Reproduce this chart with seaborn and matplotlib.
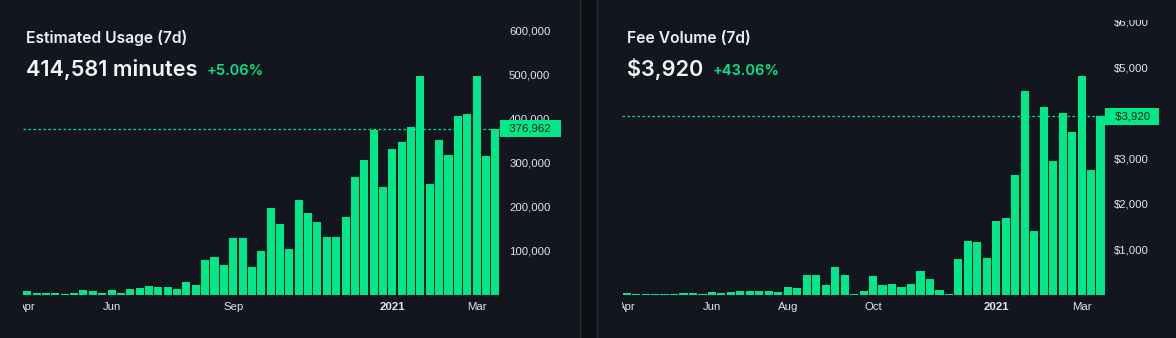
import numpy as np
import pandas as pd
import matplotlib
matplotlib.use("Agg")
import matplotlib.pyplot as plt
import seaborn as sns
from matplotlib.patches import FancyBboxPatch
from matplotlib import transforms as mtransforms

# ---------------- data ----------------
first_week = "2020-04-04"
n_weeks = 51

usage_minutes = [8300, 3800, 3800, 3800, 1500, 3800, 10600, 8300, 3800, 10600,
                 3800, 12800, 15100, 19700, 17400, 17400, 12800, 28700, 21900, 78600,
                 85400, 67300, 128500, 128500, 62700, 99000, 196500, 160200, 103600, 214700,
                 185200, 164800, 130800, 130800, 176100, 266800, 305400, 373400, 244100, 330300,
                 346200, 380200, 495800, 251000, 350700, 316700, 405100, 409700, 495800, 314400,
                 376962]
fee_usd = [37, 15, 15, 15, 15, 15, 37, 37, 15, 59,
           37, 59, 81, 81, 81, 81, 59, 168, 147, 432,
           432, 212, 608, 432, 15, 81, 410, 212, 234, 168,
           234, 520, 344, 103, 15, 784, 1180, 1158, 806, 1619,
           1685, 2630, 4476, 1399, 4125, 2938, 3993, 3575, 4806, 2740,
           3920]

usage_title = "Estimated Usage (7d)"
usage_headline = "414,581 minutes"
usage_change = "+5.06%"
usage_last_label = "376,962"
usage_yticks = [100000, 200000, 300000, 400000, 500000, 600000]
usage_ytick_labels = ["100,000", "200,000", "300,000", "400,000", "500,000", "600,000"]
usage_tick_months = ["2020-04", "2020-06", "2020-09", "2021-01", "2021-03"]
usage_tick_labels = ["Apr", "Jun", "Sep", "2021", "Mar"]

fee_title = "Fee Volume (7d)"
fee_headline = "$3,920"
fee_change = "+43.06%"
fee_last_label = "$3,920"
fee_yticks = [1000, 2000, 3000, 4000, 5000, 6000]
fee_ytick_labels = ["$1,000", "$2,000", "$3,000", "", "$5,000", "$6,000"]
fee_tick_months = ["2020-04", "2020-06", "2020-08", "2020-10", "2021-01", "2021-03"]
fee_tick_labels = ["Apr", "Jun", "Aug", "Oct", "2021", "Mar"]

# ---------------- style ----------------
GREEN = "#00e887"
CARD = "#13161e"
GAP = "#0c0e13"
BORDER = "#2c2f37"
TICK = "#e2e5eb"
TITLE = "#eceef2"
VALUE = "#f4f5f7"
BOX_TEXT = "#141720"

sns.set_theme(style="dark")
plt.rcParams["font.family"] = ["Liberation Sans", "DejaVu Sans"]

W, H, DPI = 1176, 338, 100
fig = plt.figure(figsize=(W / DPI, H / DPI), dpi=DPI, facecolor=GAP)

# cards
for x0, x1 in [(-60, 580.5), (597.5, 1240)]:
    card = FancyBboxPatch((x0 / DPI, -0.5), (x1 - x0) / DPI, (H + 6) / DPI + 0.5,
                          boxstyle="round,pad=0,rounding_size=0.09",
                          transform=fig.dpi_scale_trans, facecolor=CARD,
                          edgecolor=BORDER, linewidth=1.0, zorder=-5)
    fig.patches.append(card)

dates = pd.date_range(first_week, periods=n_weeks, freq="7D")
week_keys = dates.strftime("%Y-%m-%d")
month_keys = np.array(dates.strftime("%Y-%m"))


def panel(rect, values, ymax, yticks, ytick_labels, tick_months, tick_labels, last_label):
    ax = fig.add_axes(rect)
    ax.set_facecolor("none")
    df = pd.DataFrame({"week": week_keys, "value": values})
    sns.barplot(data=df, x="week", y="value", color=GREEN, saturation=1,
                width=0.86, linewidth=0, ax=ax, zorder=2)
    ax.set_xlim(-0.5, n_weeks - 0.5)
    ax.set_ylim(0, ymax)
    for s in ax.spines.values():
        s.set_visible(False)
    ax.grid(False)
    ax.set_xlabel("")
    ax.set_ylabel("")
    ax.yaxis.tick_right()
    ax.set_yticks(yticks)
    ax.set_yticklabels(ytick_labels)
    xpos = [int(np.argmax(month_keys == m)) for m in tick_months]
    ax.set_xticks(xpos)
    ax.set_xticklabels(tick_labels)
    ax.tick_params(axis="y", length=0, pad=6.5, labelsize=8.2, labelcolor=TICK)
    ax.tick_params(axis="x", length=0, pad=5.5, labelsize=8.2, labelcolor=TICK)
    for lab in ax.get_xticklabels():
        if lab.get_text().isdigit():
            lab.set_fontweight("bold")
    last = values[-1]
    ax.axhline(last, color=GREEN, lw=0.9, ls=(0, (2, 2)), zorder=3)
    ax.annotate("  " + last_label + "  ", xy=(1, last),
                xycoords=(ax.transAxes, ax.transData),
                xytext=(2.4, 0), textcoords="offset points",
                ha="left", va="center", fontsize=8.2, color=BOX_TEXT,
                bbox=dict(boxstyle="square,pad=0.3", fc=GREEN, ec="none"),
                annotation_clip=False, zorder=5)
    return ax


ax1 = panel([22.6 / W, 43.5 / H, (500 - 22.6) / W, 274.5 / H],
            usage_minutes, 624000, usage_yticks, usage_ytick_labels,
            usage_tick_months, usage_tick_labels, usage_last_label)
ax2 = panel([621.9 / W, 43.3 / H, (1105.3 - 621.9) / W, 274.7 / H],
            fee_usd, 6037, fee_yticks, fee_ytick_labels,
            fee_tick_months, fee_tick_labels, fee_last_label)

# headers
def header(x_px, title, headline, change):
    fig.text(x_px / W, 1 - 38.5 / H, title, fontsize=11.3, color=TITLE,
             family=["Inter", "DejaVu Sans"], fontweight="semibold", va="center", ha="left")
    t = fig.text(x_px / W, 1 - 69.5 / H, headline, fontsize=15.6, color=VALUE,
                 family=["Inter", "DejaVu Sans"], fontweight="semibold", va="center", ha="left")
    return t

h1 = header(26, usage_title, usage_headline, usage_change)
h2 = header(627, fee_title, fee_headline, fee_change)

fig.canvas.draw()
renderer = fig.canvas.get_renderer()
for h, change in [(h1, usage_change), (h2, fee_change)]:
    bb = h.get_window_extent(renderer)
    fig.text((bb.x1 + 9) / W, 1 - 71 / H, change, fontsize=10.5, color=GREEN,
             family=["Inter", "DejaVu Sans"], fontweight="semibold", va="center", ha="left")

# clip tick labels to the chart area like the reference
for ax in (ax1, ax2):
    xclip = mtransforms.TransformedBbox(mtransforms.Bbox([[0, -1], [1.3, 1]]), ax.transAxes)
    for lab in ax.get_xticklabels():
        lab.set_clip_box(xclip)
        lab.set_clip_on(True)
    for lab in ax.get_yticklabels():
        lab.set_clip_box(xclip)
        lab.set_clip_on(True)

fig.savefig("out.png", dpi=DPI, facecolor=GAP)
